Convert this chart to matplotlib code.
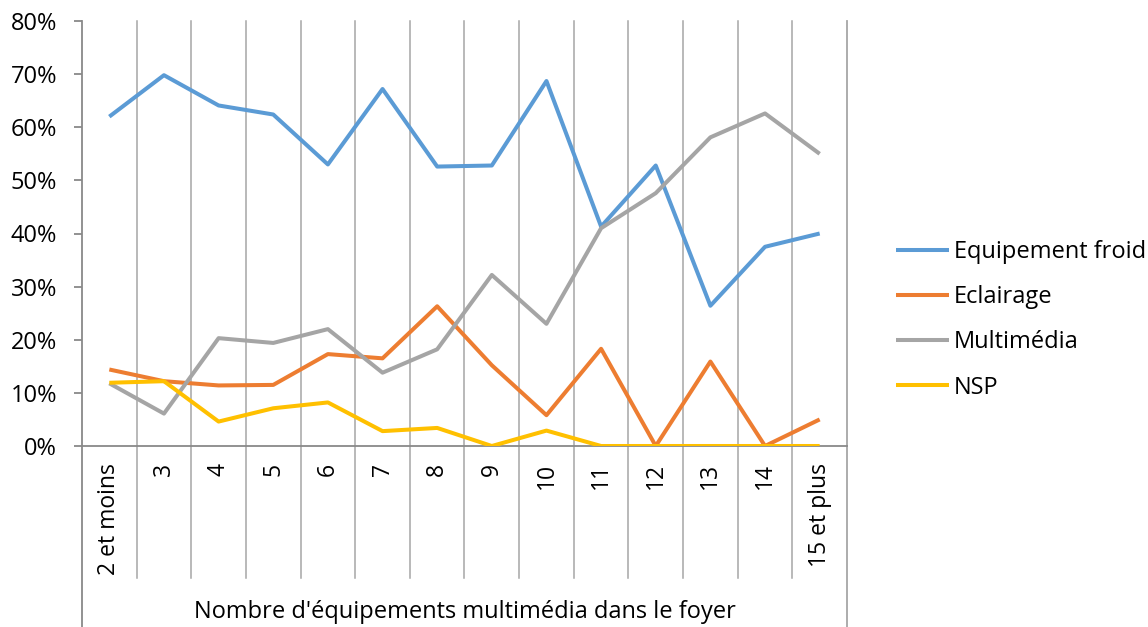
import matplotlib.pyplot as plt
from matplotlib.ticker import PercentFormatter

plt.rcParams['font.family'] = ['Open Sans', 'DejaVu Sans']

# data (percent)
categories = ['2 et moins', '3', '4', '5', '6', '7', '8', '9', '10',
              '11', '12', '13', '14', '15 et plus']
froid = [62.0, 69.8, 64.1, 62.4, 53.0, 67.2, 52.6, 52.8, 68.7, 41.3, 52.8, 26.4, 37.5, 40.0]
eclairage = [14.4, 12.2, 11.4, 11.5, 17.3, 16.5, 26.3, 15.2, 5.8, 18.3, 0.0, 15.9, 0.0, 5.0]
multimedia = [11.8, 6.1, 20.3, 19.4, 22.0, 13.8, 18.2, 32.2, 23.0, 41.0, 47.6, 58.1, 62.6, 55.0]
nsp = [11.9, 12.2, 4.6, 7.1, 8.2, 2.8, 3.4, 0.0, 2.9, 0.0, 0.0, 0.0, 0.0, 0.0]

series = [
    ('Equipement froid', froid, '#5B9BD5'),
    ('Eclairage', eclairage, '#ED7D31'),
    ('Multimédia', multimedia, '#A5A5A5'),
    ('NSP', nsp, '#FFC000'),
]
axis_title = "Nombre d'équipements multimédia dans le foyer"

W, H = 1148, 627
fig = plt.figure(figsize=(W / 100, H / 100), dpi=100)
left, right, top, bottom = 82, 847, 21, 446
ax = fig.add_axes([left / W, 1 - bottom / H, (right - left) / W, (bottom - top) / H])

x = list(range(len(categories)))
for name, vals, col in series:
    ax.plot(x, vals, color=col, lw=2.9, label=name,
            solid_joinstyle='round', solid_capstyle='butt', zorder=3)

ax.set_xlim(-0.5, len(categories) - 0.5)
ax.set_ylim(0, 80)
ax.set_yticks(range(0, 81, 10))
ax.yaxis.set_major_formatter(PercentFormatter(100, decimals=0))
ax.set_xticks([])

for s in ['top', 'right']:
    ax.spines[s].set_visible(False)
ax.spines['left'].set_color('#898989')
ax.spines['bottom'].set_color('#898989')
ax.spines['left'].set_linewidth(1.3)
ax.spines['bottom'].set_linewidth(1.3)
ax.tick_params(axis='y', length=6, width=1.3, color='#898989', pad=12,
               labelsize=17, labelcolor='#000000')

# category area below plot
cat_h = (578 - bottom) / (bottom - top)
full_h = (H - bottom) / (bottom - top)
grid_col = '#A6A6A6'
for k in range(1, len(categories)):
    ax.axvline(k - 0.5, ymin=-cat_h, ymax=1, color=grid_col, lw=1.1,
               clip_on=False, zorder=1)
ax.axvline(len(categories) - 0.5, ymin=-full_h, ymax=1, color=grid_col,
           lw=1.3, clip_on=False, zorder=1)
ax.axvline(-0.5, ymin=-full_h, ymax=0, color='#898989', lw=1.3,
           clip_on=False, zorder=1)

for i, c in enumerate(categories):
    ax.text(i, -17 / (bottom - top), c, transform=ax.get_xaxis_transform(),
            rotation=90, ha='center', va='top', fontsize=16.5)

ax.text(0.5, -(612 - bottom) / (bottom - top), axis_title, transform=ax.transAxes,
        ha='center', va='center', fontsize=17)

fig.legend(loc='upper left', bbox_to_anchor=(896 / W, 1 - 240 / H),
           frameon=False, fontsize=17, handlelength=2.25, handletextpad=0.2,
           labelspacing=0.9, borderpad=0, borderaxespad=0)

fig.savefig('out.png', dpi=100)
